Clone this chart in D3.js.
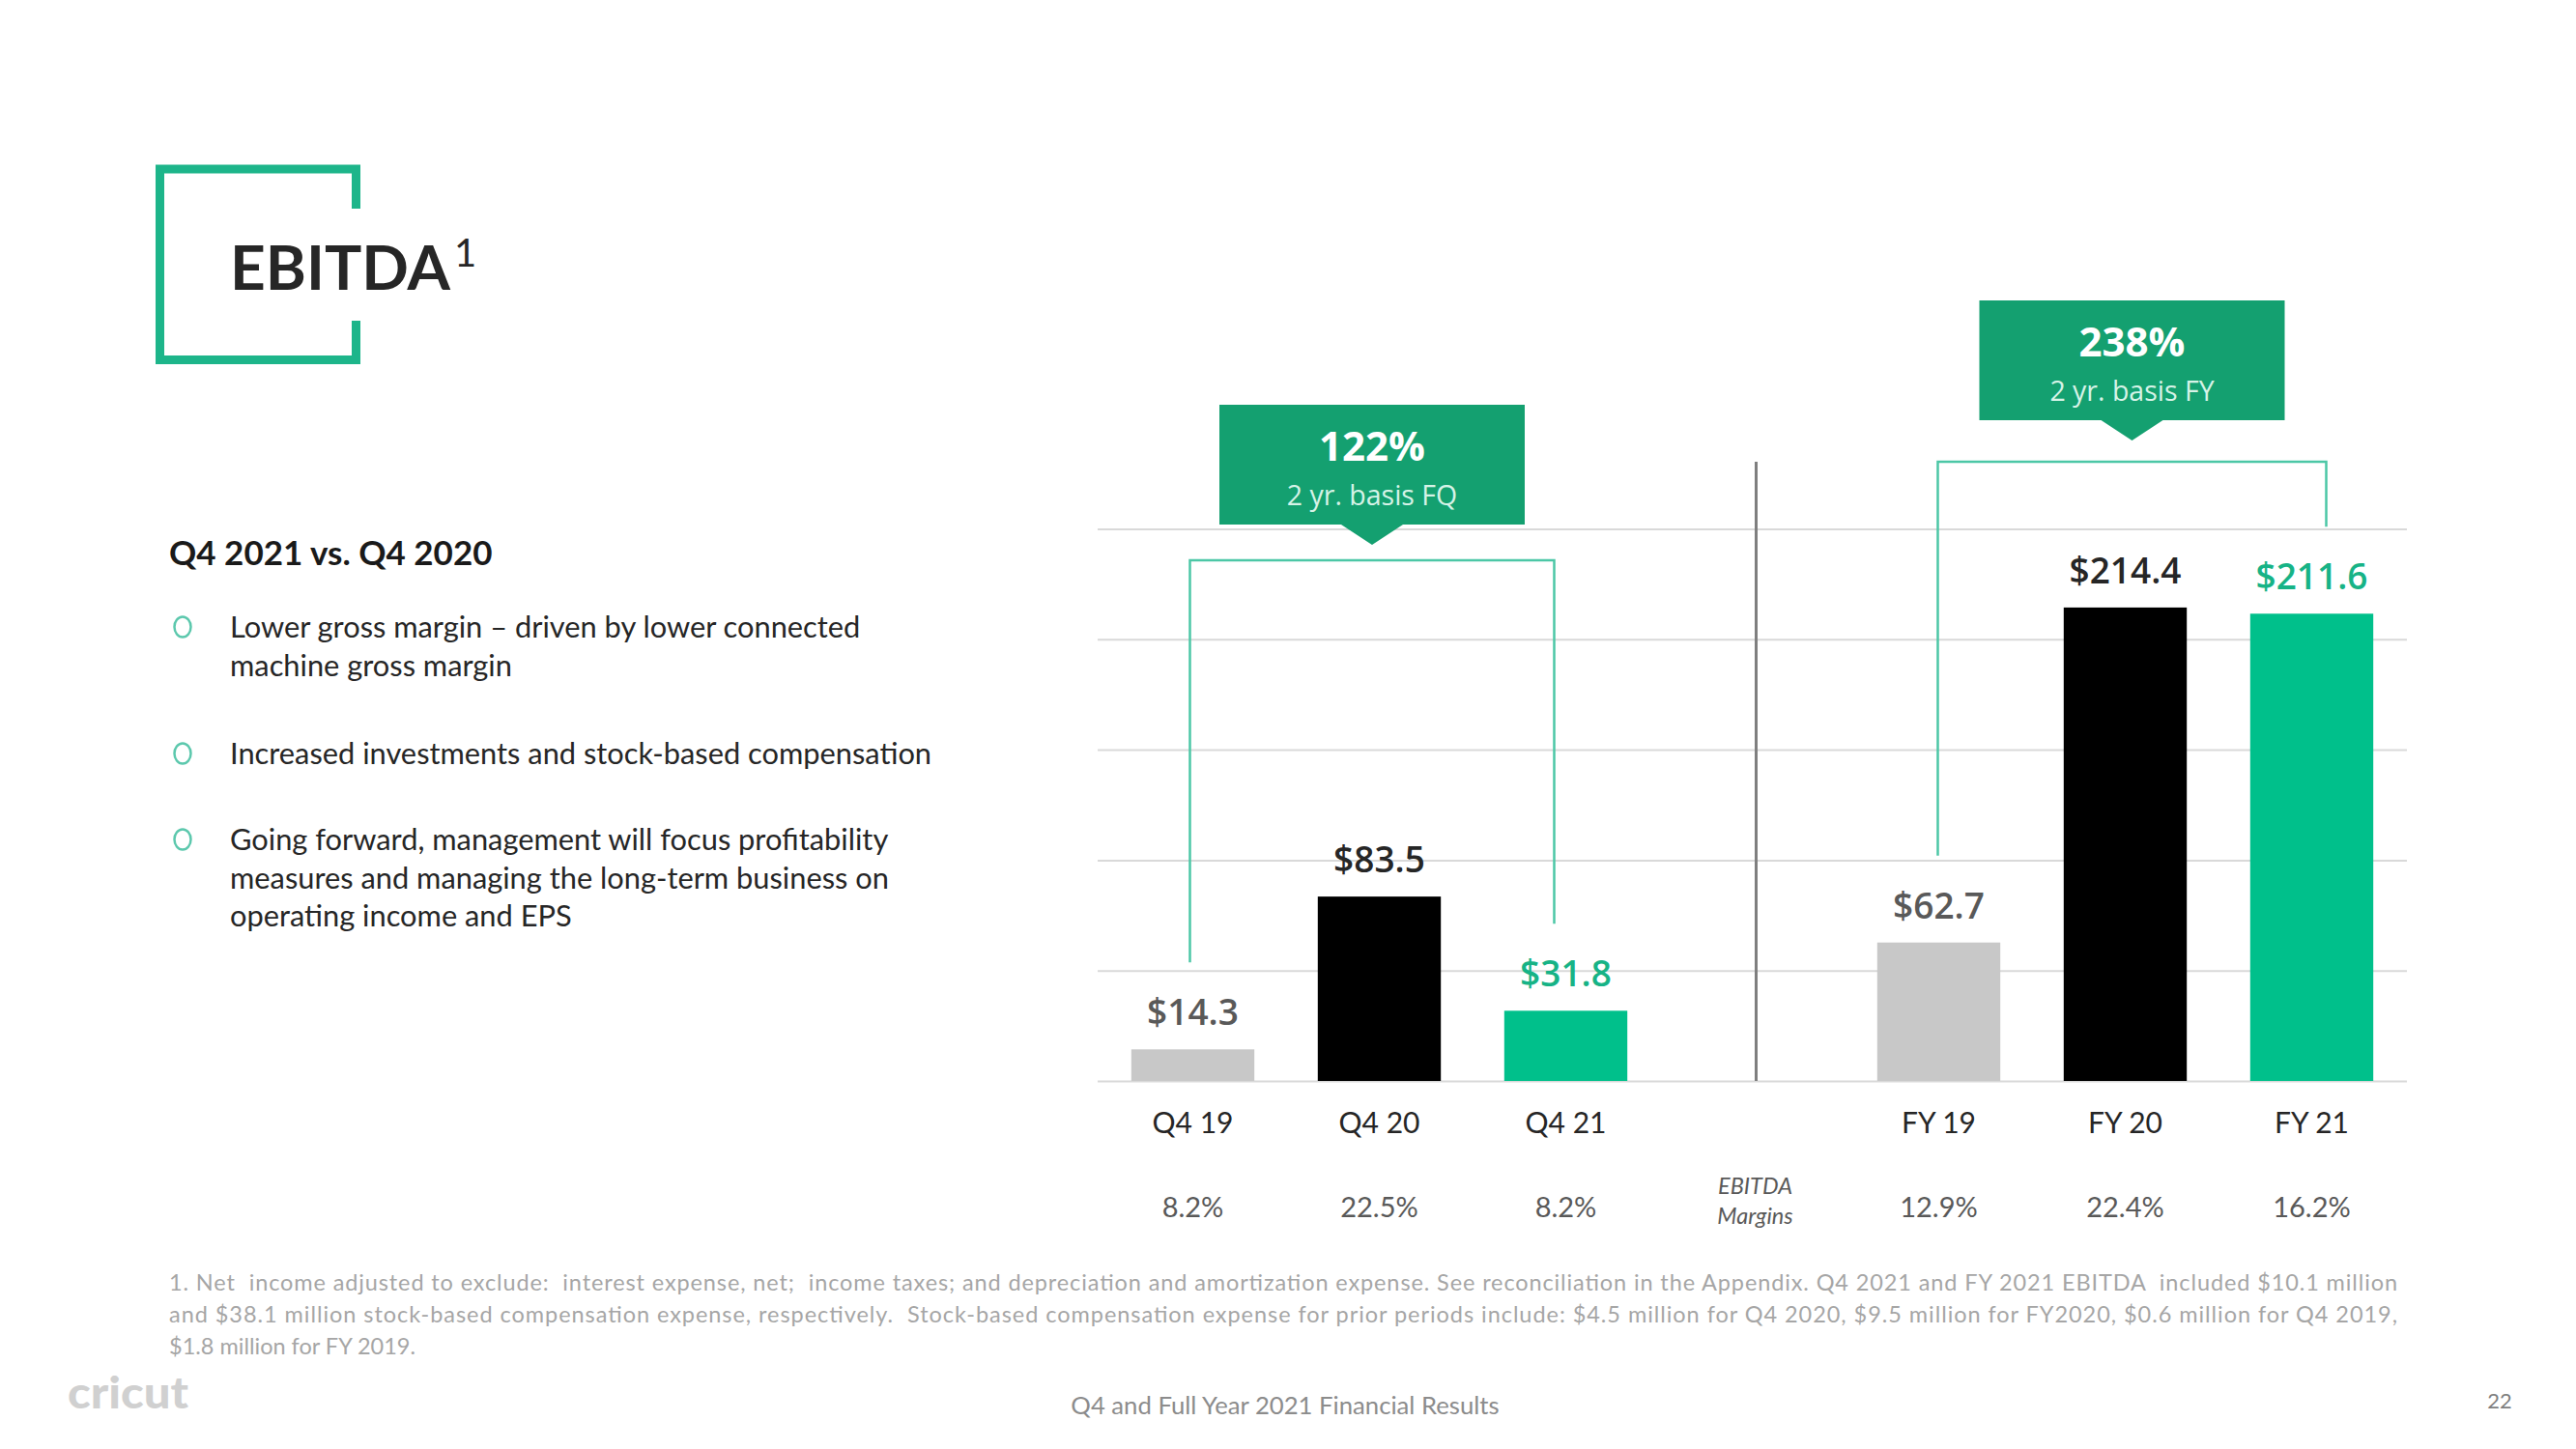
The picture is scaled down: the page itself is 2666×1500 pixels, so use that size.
<!DOCTYPE html>
<html>
<head>
<meta charset="utf-8">
<script src="https://cdn.jsdelivr.net/npm/d3@7"></script>
<style>
  html, body { margin: 0; padding: 0; background: #ffffff; }
  svg { display: block; }
</style>
</head>
<body>
<svg id="chart" width="2666" height="1500"></svg>
<script>
// ---------------- DATA ----------------
const categories = ["Q4 19", "Q4 20", "Q4 21", "FY 19", "FY 20", "FY 21"];
const values = [14.3, 83.5, 31.8, 62.7, 214.4, 211.6];
const valueLabels = ["$14.3", "$83.5", "$31.8", "$62.7", "$214.4", "$211.6"];
const marginLabels = ["8.2%", "22.5%", "8.2%", "12.9%", "22.4%", "16.2%"];
const gridTicks = [0, 50, 100, 150, 200, 250];
const groups = [["Q4 19", "Q4 20", "Q4 21"], ["FY 19", "FY 20", "FY 21"]];
const growthPct = ["122%", "238%"];
const growthSub = ["2 yr. basis FQ", "2 yr. basis FY"];
const marginTitle = ["EBITDA", "Margins"];
const bullets = [
  ["Lower gross margin \u2013 driven by lower connected", "machine gross margin"],
  ["Increased investments and stock-based compensation"],
  ["Going forward, management will focus profitability", "measures and managing the long-term business on", "operating income and EPS"]
];
const footnote = [
  "1. Net  income adjusted to exclude:  interest expense, net;  income taxes; and depreciation and amortization expense. See reconciliation in the Appendix. Q4 2021 and FY 2021 EBITDA  included $10.1 million",
  "and $38.1 million stock-based compensation expense, respectively.  Stock-based compensation expense for prior periods include: $4.5 million for Q4 2020, $9.5 million for FY2020, $0.6 million for Q4 2019,",
  "$1.8 million for FY 2019."
];

// ---------------- STYLE ----------------
const barColors = ["#c8c8c8", "#000000", "#00c08b"];
const labelColors = ["#595959", "#262626", "#17b386"];
const green = "#1db58a";
const calloutFill = "#14a070";
const bracketColor = "#4cc7a6";
const latoF = "Lato, 'Open Sans', sans-serif";
const openF = "'Open Sans', 'Noto Sans', sans-serif";

const svg = d3.select("#chart");
svg.append("rect").attr("width", 2666).attr("height", 1500).attr("fill", "#ffffff");

// ---------------- TITLE ----------------
svg.append("path")
  .attr("d", "M368.5,216 V175 H165.5 V372.5 H368.5 V332")
  .attr("fill", "none").attr("stroke", green).attr("stroke-width", 9);
const title = svg.append("text").attr("x", 238).attr("y", 300)
  .attr("font-family", latoF).attr("font-weight", 700).attr("font-size", 64).attr("fill", "#262626");
title.append("tspan").text("EBITDA");
title.append("tspan").attr("font-size", 40).attr("font-weight", 400).attr("dx", 4).attr("dy", -24).text("1");

// ---------------- LEFT TEXT ----------------
svg.append("text").attr("x", 175).attr("y", 585)
  .attr("font-family", latoF).attr("font-weight", 700).attr("font-size", 35).attr("fill", "#1a1a1a")
  .text("Q4 2021 vs. Q4 2020");

const bulletStart = [660, 791, 880];
bullets.forEach((lines, i) => {
  svg.append("ellipse").attr("cx", 189).attr("cy", bulletStart[i] - 11).attr("rx", 8.5).attr("ry", 10.5)
    .attr("fill", "none").attr("stroke", "#5cc8ad").attr("stroke-width", 2.5);
  const t = svg.append("text").attr("font-family", latoF).attr("font-size", 30.8).attr("fill", "#262626");
  lines.forEach((ln, j) => {
    t.append("tspan").attr("x", 238).attr("y", bulletStart[i] + j * 39.5).text(ln);
  });
});

// ---------------- CHART ----------------
const slots = ["Q4 19", "Q4 20", "Q4 21", "gap", "FY 19", "FY 20", "FY 21"];
const x = d3.scaleBand().domain(slots).range([1138, 2489]).paddingInner(0.34).paddingOuter(0.17);
const y = d3.scaleLinear().domain([0, 250]).range([1119, 547.5]);
const cx = c => x(c) + x.bandwidth() / 2;

// gridlines
const grid = svg.append("g").attr("transform", "translate(1136,0)")
  .call(d3.axisRight(y).tickValues(gridTicks).tickSize(1355).tickFormat(""));
grid.select(".domain").remove();
grid.selectAll(".tick line").attr("stroke", "#d9d9d9").attr("stroke-width", 2);

// divider
svg.append("line").attr("x1", cx("gap") + 4).attr("x2", cx("gap") + 4)
  .attr("y1", 478).attr("y2", y(0)).attr("stroke", "#7f7f7f").attr("stroke-width", 3);

// bars
svg.append("g").selectAll("rect").data(categories).join("rect")
  .attr("x", d => x(d)).attr("width", x.bandwidth())
  .attr("y", (d, i) => y(values[i])).attr("height", (d, i) => y(0) - y(values[i]))
  .attr("fill", (d, i) => barColors[i % 3]);

// value labels
svg.append("g").selectAll("text").data(categories).join("text")
  .attr("x", d => cx(d)).attr("y", (d, i) => y(values[i]) - 25)
  .attr("text-anchor", "middle").attr("font-family", openF).attr("font-weight", 600)
  .attr("font-size", 37).attr("fill", (d, i) => labelColors[i % 3])
  .text((d, i) => valueLabels[i]);

// category axis
const xAxis = svg.append("g").attr("transform", `translate(0,${y(0)})`)
  .call(d3.axisBottom(x).tickSize(0).tickFormat(d => d === "gap" ? "" : d));
xAxis.select(".domain").remove();
xAxis.selectAll("text").attr("font-family", latoF).attr("font-size", 30).attr("fill", "#262626")
  .attr("dy", null).attr("y", 54);

// margin labels
svg.append("g").selectAll("text").data(categories).join("text")
  .attr("x", d => cx(d)).attr("y", 1260).attr("text-anchor", "middle")
  .attr("font-family", latoF).attr("font-size", 29).attr("fill", "#595959")
  .text((d, i) => marginLabels[i]);
svg.append("g").selectAll("text").data(marginTitle).join("text")
  .attr("x", cx("gap") + 3).attr("y", (d, i) => 1236 + i * 31).attr("text-anchor", "middle")
  .attr("font-family", latoF).attr("font-style", "italic").attr("font-size", 23.5).attr("fill", "#595959")
  .text(d => d);

// brackets + callouts
const bracketTop = [580, 478];
const bracketShift = [[-3, -12], [-1, 15]];
const boxTop = [419, 311];
const boxW = 316, boxH = 124, ptrH = 21, ptrHalf = 32;
groups.forEach((g, gi) => {
  const x1 = cx(g[0]) + bracketShift[gi][0], x2 = cx(g[2]) + bracketShift[gi][1];
  const vi1 = categories.indexOf(g[0]), vi2 = categories.indexOf(g[2]);
  const yb1 = y(values[vi1]) - 90, yb2 = y(values[vi2]) - 90;
  svg.append("path")
    .attr("d", `M${x1},${yb1} V${bracketTop[gi]} H${x2} V${yb2}`)
    .attr("fill", "none").attr("stroke", bracketColor).attr("stroke-width", 2.5);
  const mid = (x1 + x2) / 2;
  const t = boxTop[gi];
  svg.append("path")
    .attr("d", `M${mid - boxW / 2},${t} H${mid + boxW / 2} V${t + boxH} H${mid + ptrHalf} L${mid},${t + boxH + ptrH} L${mid - ptrHalf},${t + boxH} H${mid - boxW / 2} Z`)
    .attr("fill", calloutFill);
  svg.append("text").attr("x", mid).attr("y", t + 58).attr("text-anchor", "middle")
    .attr("font-family", openF).attr("font-weight", 700).attr("font-size", 42).attr("fill", "#ffffff")
    .text(growthPct[gi]);
  svg.append("text").attr("x", mid).attr("y", t + 104).attr("text-anchor", "middle")
    .attr("font-family", openF).attr("font-size", 28.5).attr("fill", "#d6f3e7")
    .text(growthSub[gi]);
});

// ---------------- FOOTNOTE & FOOTER ----------------
const fnLen = [2306, 2306, null];
footnote.forEach((ln, i) => {
  const t = svg.append("text").attr("x", 175).attr("y", 1336 + i * 33)
    .attr("font-family", latoF).attr("font-size", 23.5).attr("fill", "#a6a6a6")
    .attr("xml:space", "preserve").style("white-space", "pre").text(ln);
  if (fnLen[i]) t.attr("textLength", fnLen[i]).attr("lengthAdjust", "spacing");
});

svg.append("text").attr("x", 70).attr("y", 1458)
  .attr("font-family", latoF).attr("font-weight", 900).attr("font-size", 46).attr("fill", "#d0d0d0")
  .attr("textLength", 125).attr("lengthAdjust", "spacingAndGlyphs").text("cricut");
svg.append("text").attr("x", 1330).attr("y", 1464).attr("text-anchor", "middle")
  .attr("font-family", latoF).attr("font-size", 25.7).attr("fill", "#8c8c8c")
  .text("Q4 and Full Year 2021 Financial Results");
svg.append("text").attr("x", 2587).attr("y", 1458).attr("text-anchor", "middle")
  .attr("font-family", latoF).attr("font-size", 22).attr("fill", "#7f7f7f").text("22");
</script>
</body>
</html>
